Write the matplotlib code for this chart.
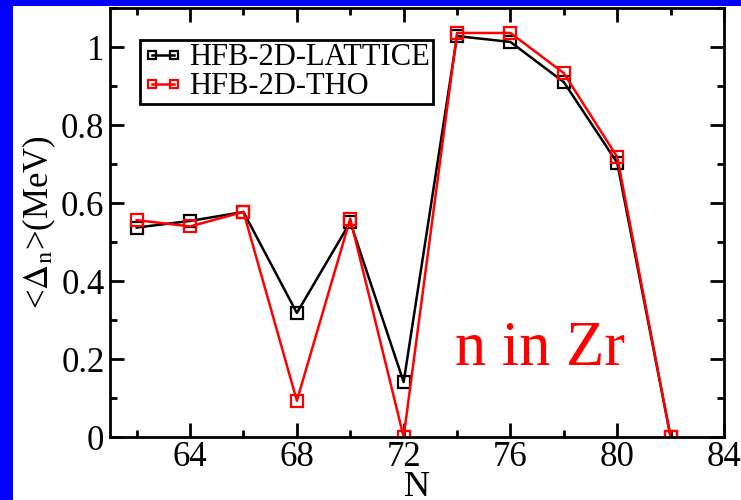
#!/usr/bin/env python3
import matplotlib
matplotlib.use("Agg")
import matplotlib.pyplot as plt
from matplotlib.ticker import MultipleLocator
from matplotlib.patches import Rectangle

# neutron number and mean pairing gaps (MeV)
N = [62, 64, 66, 68, 70, 72, 74, 76, 78, 80, 82]
lattice = [0.537, 0.554, 0.577, 0.318, 0.551, 0.141, 1.028, 1.013, 0.910, 0.703, 0.0]
tho = [0.556, 0.540, 0.577, 0.093, 0.560, 0.0, 1.036, 1.036, 0.933, 0.718, 0.0]
labels = ["HFB-2D-LATTICE", "HFB-2D-THO"]
xticks = [64, 68, 72, 76, 80, 84]
yticks = [0, 0.2, 0.4, 0.6, 0.8, 1]

plt.rcParams["font.family"] = ["Liberation Serif", "DejaVu Serif"]
plt.rcParams["mathtext.fontset"] = "stix"

fig = plt.figure(figsize=(7.41, 5), dpi=100)
# blue frame at left and top: blue figure, white panel over the rest
fig.patch.set_facecolor("#0000ff")
fig.patches.append(Rectangle((13 / 741, 0), 1, 1 - 6 / 500, transform=fig.transFigure, facecolor="white",
                             edgecolor="none", zorder=-1))

ax = fig.add_axes([110 / 741, 63 / 500, 614 / 741, 429 / 500])
ax.plot(N, lattice, color="black", lw=1.8, marker="s", ms=9, mfc="none", mec="black", mew=1.6, label=labels[0])
ax.plot(N, tho, color="red", lw=1.8, marker="s", ms=9, mfc="none", mec="red", mew=1.6, label=labels[1])

ax.set_xlim(61, 84)
ax.set_ylim(0, 1.1)
ax.set_xticks(xticks)
ax.set_yticks(yticks)
ax.set_yticklabels(["0", "0.2", "0.4", "0.6", "0.8", "1"])
ax.xaxis.set_minor_locator(MultipleLocator(2))
ax.yaxis.set_minor_locator(MultipleLocator(0.1))
ax.tick_params(which="both", direction="in", top=True, right=True, width=2, labelsize=25)
ax.tick_params(which="major", length=10)
ax.tick_params(which="minor", length=5)
ax.tick_params(axis="x", pad=3)
ax.tick_params(axis="y", pad=4)
for sp in ax.spines.values():
    sp.set_linewidth(2)

ax.set_xlabel("N", fontsize=26, labelpad=-2)
ax.set_ylabel(r"<$\Delta_{\rm n}$>(MeV)", fontsize=25, labelpad=2)

ax.text(0.562, 0.168, "n in Zr", color="red", fontsize=45, transform=ax.transAxes, ha="left", va="baseline")

leg = ax.legend(loc="upper left", bbox_to_anchor=(0.049, 0.925), fontsize=22, frameon=True, fancybox=False,
                framealpha=1, numpoints=2, handlelength=1.3, handletextpad=0.2, borderpad=0.1,
                labelspacing=0.0, borderaxespad=0, markerscale=0.7)
leg.get_frame().set_edgecolor("black")
leg.get_frame().set_linewidth(2)

fig.savefig("out.png", dpi=100, facecolor=fig.get_facecolor())
